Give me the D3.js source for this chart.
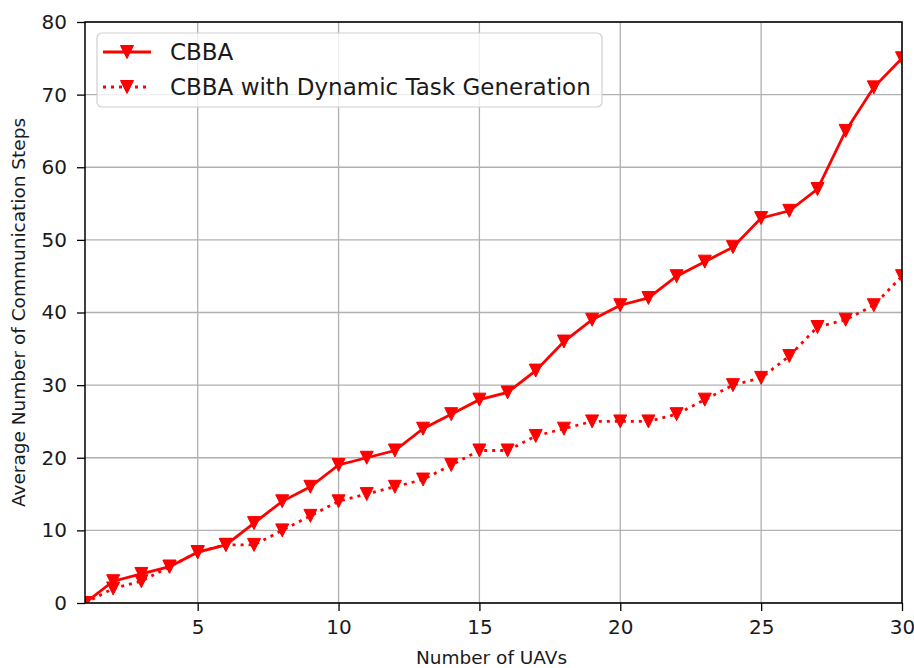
<!DOCTYPE html>
<html>
<head>
<meta charset="utf-8">
<script src="https://cdn.jsdelivr.net/npm/d3@7"></script>
<style>
  body { margin: 0; background: #fff; }
  text { font-family: "DejaVu Sans", sans-serif; fill: #1a1a1a; }
</style>
</head>
<body>
<svg id="chart" width="914" height="668"></svg>
<script>
// number of UAVs
let uavs = [1, 2, 3, 4, 5, 6, 7, 8, 9, 10, 11, 12, 13, 14, 15, 16, 17, 18, 19, 20, 21, 22, 23, 24, 25, 26, 27, 28, 29, 30]
let cbba = [0, 3, 4, 5, 7, 8, 11, 14, 16, 19, 20, 21, 24, 26, 28, 29, 32, 36, 39, 41, 42, 45, 47, 49, 53, 54, 57, 65, 71, 75]
let cbbaDynamic = [0, 2, 3, 5, 7, 8, 8, 10, 12, 14, 15, 16, 17, 19, 21, 21, 23, 24, 25, 25, 25, 26, 28, 30, 31, 34, 38, 39, 41, 45]
let xTicks = [5, 10, 15, 20, 25, 30]
let yTicks = [0, 10, 20, 30, 40, 50, 60, 70, 80]
let seriesNames = ["CBBA", "CBBA with Dynamic Task Generation"]

//========================= SET UP SVG =========================
let svg = d3.select("#chart"),
    margin = {top: 22, right: 12, bottom: 65, left: 85},
    width = svg.attr("width") - margin.left - margin.right,
    height = svg.attr("height") - margin.top - margin.bottom,
    g = svg.append("g").attr("transform", "translate(" + margin.left + "," + margin.top + ")")

let x = d3.scaleLinear().domain([1, 30]).range([0, width]),
    y = d3.scaleLinear().domain([0, 80]).range([height, 0])

let series = [
  {name: seriesNames[0], values: cbba, dash: null},
  {name: seriesNames[1], values: cbbaDynamic, dash: "3,5"}
]

svg.append("clipPath").attr("id", "plotClip")
  .append("rect").attr("x", 0).attr("y", 0).attr("width", width).attr("height", height)

//========================= GRID =========================
g.append("g").selectAll("line").data(xTicks).enter().append("line")
  .attr("x1", d => x(d)).attr("x2", d => x(d))
  .attr("y1", 0).attr("y2", height)
  .attr("stroke", "#b0b0b0").attr("stroke-width", 1.3)
g.append("g").selectAll("line").data(yTicks).enter().append("line")
  .attr("x1", 0).attr("x2", width)
  .attr("y1", d => y(d)).attr("y2", d => y(d))
  .attr("stroke", "#b0b0b0").attr("stroke-width", 1.3)

//========================= LINES + MARKERS =========================
let line = d3.line()
  .x((d, i) => x(uavs[i]))
  .y(d => y(d))

let tri = "M0,6.5L-6.5,-6.5L6.5,-6.5Z"

let plot = g.append("g").attr("clip-path", "url(#plotClip)")
series.forEach(function(s) {
  plot.append("path")
    .attr("d", line(s.values))
    .attr("fill", "none")
    .attr("stroke", "#ff0000")
    .attr("stroke-width", 2.8)
    .attr("stroke-dasharray", s.dash)
    .attr("stroke-linecap", s.dash ? "butt" : "square")
  plot.append("g").selectAll("path").data(s.values).enter().append("path")
    .attr("d", tri)
    .attr("transform", (d, i) => "translate(" + x(uavs[i]) + "," + y(d) + ")")
    .attr("fill", "#ff0000")
    .attr("stroke", "#ff0000").attr("stroke-width", 1)
})

//========================= AXES =========================
let xAxis = g.append("g")
  .attr("transform", "translate(0," + height + ")")
  .call(d3.axisBottom(x).tickValues(xTicks).tickSize(8).tickPadding(9))
let yAxis = g.append("g")
  .call(d3.axisLeft(y).tickValues(yTicks).tickSize(8).tickPadding(10))
;[xAxis, yAxis].forEach(function(a) {
  a.select(".domain").remove()
  a.selectAll("line").attr("stroke", "#000").attr("stroke-width", 1.3)
  a.selectAll("text").attr("font-size", 20).attr("font-family", "DejaVu Sans").attr("fill", "#1a1a1a")
})

// frame
g.append("rect").attr("width", width).attr("height", height)
  .attr("fill", "none").attr("stroke", "#000").attr("stroke-width", 1.5)

svg.append("text")
  .attr("x", margin.left + width / 2 - 2).attr("y", 664)
  .attr("text-anchor", "middle").attr("font-size", 18.5)
  .text("Number of UAVs")
svg.append("text")
  .attr("transform", "translate(25," + (margin.top + height / 2) + ") rotate(-90)")
  .attr("text-anchor", "middle").attr("font-size", 18.5)
  .text("Average Number of Communication Steps")

//========================= LEGEND =========================
let legend = svg.append("g").attr("transform", "translate(97,33)")
legend.append("rect")
  .attr("width", 505).attr("height", 74).attr("rx", 5)
  .attr("fill", "#fff").attr("fill-opacity", 0.8)
  .attr("stroke", "#d0d0d0").attr("stroke-width", 1.2)

let item = legend.selectAll(".legendItem").data(series).enter().append("g")
  .attr("class", "legendItem")
  .attr("transform", (d, i) => "translate(0," + (19 + i * 35) + ")")
item.append("line")
  .attr("x1", 6).attr("x2", 54).attr("y1", 0).attr("y2", 0)
  .attr("stroke", "#ff0000").attr("stroke-width", 2.8)
  .attr("stroke-dasharray", d => d.dash)
item.append("path")
  .attr("d", tri).attr("transform", "translate(30,0)")
  .attr("fill", "#ff0000").attr("stroke", "#ff0000")
item.append("text")
  .attr("x", 73).attr("y", 8)
  .attr("font-size", 23)
  .text(d => d.name)
</script>
</body>
</html>
